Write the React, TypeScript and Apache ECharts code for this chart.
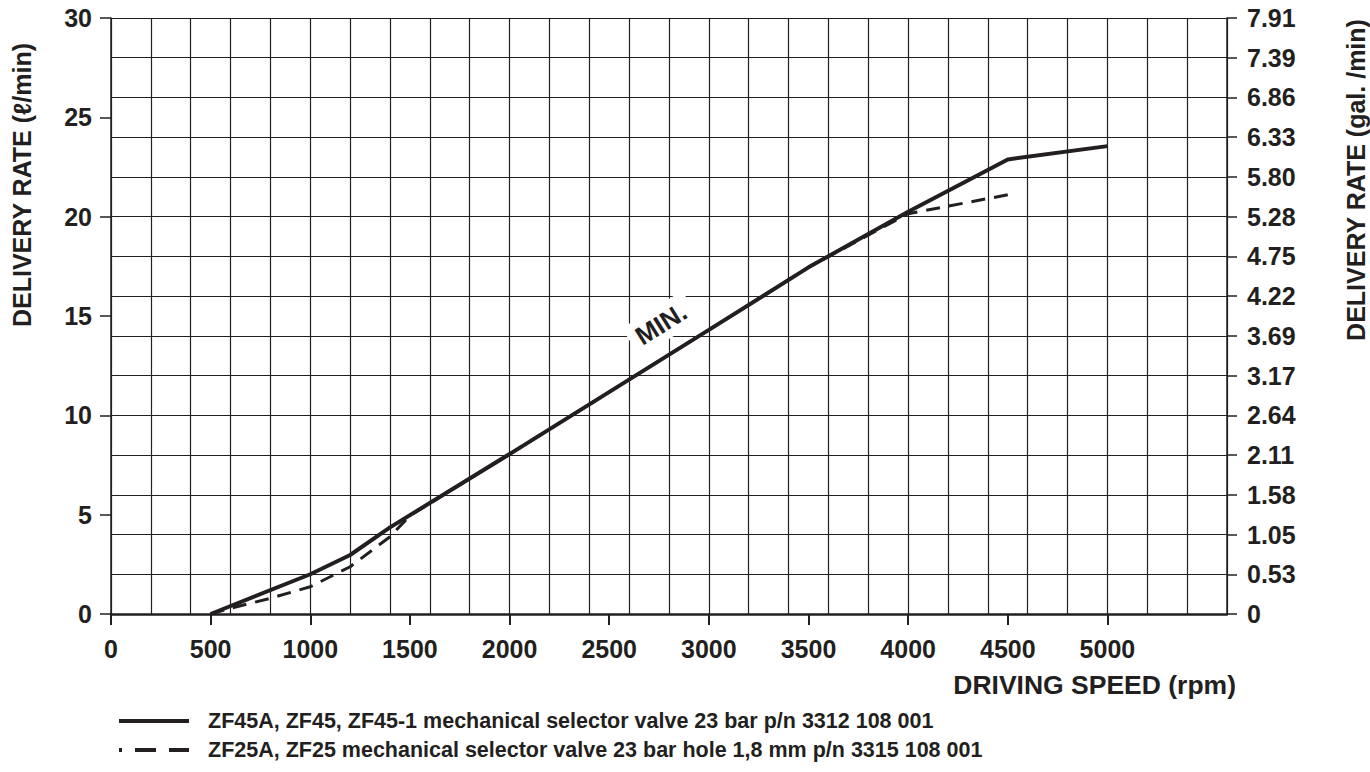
import React, { useEffect, useRef } from "react";
import * as echarts from "echarts";

// Driving speed (rpm) and delivery rate (l/min)
const zf45Speed = [500, 1000, 1200, 1400, 2000, 3000, 3500, 4000, 4500, 5000];
const zf45Rate = [0, 2.0, 2.97, 4.36, 8.05, 14.3, 17.45, 20.25, 22.88, 23.55];

const zf25Speed = [500, 600, 800, 1000, 1200, 1400, 1500, 2000, 3000, 3500, 4000, 4500];
const zf25Rate = [0, 0.29, 0.79, 1.37, 2.38, 3.89, 4.95, 8.05, 14.3, 17.45, 20.15, 21.1];

const xLabelValues = [0, 500, 1000, 1500, 2000, 2500, 3000, 3500, 4000, 4500, 5000];
const yLabelValues = [0, 5, 10, 15, 20, 25, 30];
const galLabels = ["0", "0.53", "1.05", "1.58", "2.11", "2.64", "3.17", "3.69", "4.22", "4.75", "5.28", "5.80", "6.33", "6.86", "7.39", "7.91"];

const zf45Name = "ZF45A, ZF45, ZF45-1 mechanical selector valve 23 bar p/n 3312 108 001";
const zf25Name = "ZF25A, ZF25 mechanical selector valve 23 bar hole 1,8 mm p/n 3315 108 001";
const minLabel = { speed: 2760, rate: 14.6, text: "MIN." };

const INK = "#231f20";
const FONT = "'Liberation Sans', Arial, Helvetica, sans-serif";

export default function App() {
  const ref = useRef<HTMLDivElement>(null);
  useEffect(() => {
    if (!ref.current) return;
    const chart = echarts.init(ref.current, null, { renderer: "svg" });
    const tickText = { fontFamily: FONT, fontSize: 25, fontWeight: "bold", color: INK };
    chart.setOption({
      animation: false,
      backgroundColor: "#fff",
      textStyle: { fontFamily: FONT, fontWeight: "bold", color: INK },
      grid: { left: 111, top: 18, right: 143, bottom: 158 },
      xAxis: [
        {
          type: "value", min: 0, max: 5600, interval: 200,
          axisLine: { show: true, onZero: false, lineStyle: { color: INK, width: 2.5 } },
          axisTick: { show: false }, axisLabel: { show: false },
          splitLine: { show: true, lineStyle: { color: INK, width: 1.2 } },
        },
        {
          type: "value", min: 0, max: 5600, position: "bottom",
          axisLine: { show: false },
          axisTick: { show: true, customValues: xLabelValues, length: 11, lineStyle: { color: INK, width: 2 } },
          axisLabel: {
            show: true, customValues: xLabelValues, margin: 22, ...tickText,
            formatter: (v: number) => String(v),
          },
          splitLine: { show: false },
        },
      ],
      yAxis: [
        {
          type: "value", min: 0, max: 30, interval: 2, position: "left",
          axisLine: { show: true, lineStyle: { color: INK, width: 1.5 } },
          axisTick: { show: false }, axisLabel: { show: false },
          splitLine: { show: true, lineStyle: { color: INK, width: 1.2 } },
        },
        {
          type: "value", min: 0, max: 30, position: "left",
          axisLine: { show: false },
          axisTick: { show: true, customValues: yLabelValues, length: 11, lineStyle: { color: INK, width: 1.5 } },
          axisLabel: {
            show: true, customValues: yLabelValues, margin: 19, ...tickText,
            formatter: (v: number) => String(v),
          },
          splitLine: { show: false },
        },
        {
          type: "value", min: 0, max: 30, interval: 2, position: "right",
          axisLine: { show: true, lineStyle: { color: INK, width: 1.5 } },
          axisTick: { show: true, length: 10, lineStyle: { color: INK, width: 1.5 } },
          axisLabel: {
            show: true, margin: 20, ...tickText,
            formatter: (v: number) => galLabels[Math.round(v / 2)] ?? "",
          },
          splitLine: { show: false },
        },
      ],
      legend: {
        orient: "vertical", left: 112, top: 705,
        itemWidth: 70, itemHeight: 14, itemGap: 7,
        itemStyle: { opacity: 0 },
        textStyle: { fontFamily: FONT, fontSize: 21.5, fontWeight: "bold", color: INK, padding: [0, 0, 0, 14] },
        data: [
          { name: zf45Name, lineStyle: { width: 4 } },
          { name: zf25Name, lineStyle: { width: 4, type: [21, 13], dashOffset: 18 } },
        ],
      },
      series: [
        {
          name: zf25Name, type: "line", xAxisIndex: 0, yAxisIndex: 0,
          symbol: "none", showSymbol: false,
          lineStyle: { color: INK, width: 3, type: [14, 9] },
          itemStyle: { color: INK },
          data: zf25Speed.map((s, i) => [s, zf25Rate[i]]),
          z: 2,
        },
        {
          name: zf45Name, type: "line", xAxisIndex: 0, yAxisIndex: 0,
          symbol: "none", showSymbol: false,
          lineStyle: { color: INK, width: 4 },
          itemStyle: { color: INK },
          data: zf45Speed.map((s, i) => [s, zf45Rate[i]]),
          z: 3,
          markPoint: {
            symbol: "circle", symbolSize: 0,
            data: [
              {
                coord: [minLabel.speed, minLabel.rate],
                label: {
                  show: true, formatter: minLabel.text, position: "inside", rotate: 32,
                  backgroundColor: "#fff", padding: [5, 8, 3, 8],
                  fontFamily: FONT, fontSize: 26, fontWeight: "bold", color: INK,
                },
              },
            ],
          },
        },
      ],
      graphic: [
        {
          type: "text", x: 22, y: 185, rotation: Math.PI / 2,
          style: { text: "DELIVERY RATE (ℓ/min)", fontFamily: FONT, fontSize: 25, fontWeight: "bold", fill: INK, align: "center", verticalAlign: "middle" },
        },
        {
          type: "text", x: 1356, y: 180, rotation: Math.PI / 2,
          style: { text: "DELIVERY RATE (gal. /min)", fontFamily: FONT, fontSize: 25, fontWeight: "bold", fill: INK, align: "center", verticalAlign: "middle" },
        },
        {
          type: "text", x: 1236, y: 685,
          style: { text: "DRIVING SPEED (rpm)", fontFamily: FONT, fontSize: 26.5, fontWeight: "bold", fill: INK, align: "right", verticalAlign: "middle" },
        },
      ],
    });
    return () => chart.dispose();
  }, []);
  return <div ref={ref} style={{ position: "fixed", left: 0, top: 0, width: 1370, height: 772 }} />;
}
